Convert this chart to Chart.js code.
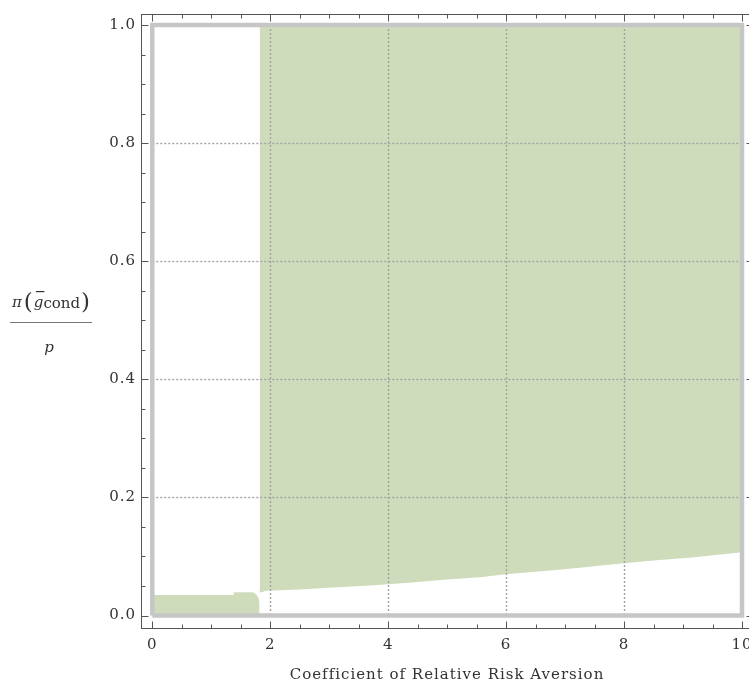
<!DOCTYPE html>
<html>
<head>
<meta charset="utf-8">
<script src="https://cdn.jsdelivr.net/npm/chart.js@4.4.1/dist/chart.umd.min.js"></script>
<style>
  html, body { margin: 0; padding: 0; background: #fff; width: 749px; height: 684px; overflow: hidden; }
  #wrap { position: absolute; left: 0; top: 0; width: 760px; height: 684px; }
</style>
</head>
<body>
<div id="wrap"><canvas id="chart" width="760" height="684"></canvas></div>
<script>
// Tick values and labels
const xTickValues = [0, 2, 4, 6, 8, 10];
const xTickLabels = ['0', '2', '4', '6', '8', '10'];
const yTickValues = [0.0, 0.2, 0.4, 0.6, 0.8, 1.0];
const yTickLabels = ['0.0', '0.2', '0.4', '0.6', '0.8', '1.0'];

// Shaded region for risk aversion above ~1.8: lower boundary (upper edge is 1)
const upperX   = [1.82, 1.87, 1.92, 2.5, 3.0, 3.7, 4.4, 5.0, 5.6, 5.95, 6.75, 7.25, 7.65, 8.0, 8.5, 9.1, 9.6, 10];
const upperLow = [0.039, 0.040, 0.042, 0.044, 0.047, 0.051, 0.056, 0.061, 0.065, 0.0695, 0.076, 0.081, 0.085, 0.0885, 0.093, 0.098, 0.103, 0.107];
const upperTopX = [1.82, 10];
const upperTop  = [1, 1];

// Thin shaded band at low risk aversion
const bandX = [0, 1.38, 1.38, 1.71, 1.76, 1.80, 1.82, 1.82];
const bandY = [0.0347, 0.0347, 0.0392, 0.0392, 0.036, 0.030, 0.020, 0];

// Plot range outline
const rangeX = [0, 10, 10, 0, 0];
const rangeY = [0, 0, 1, 1, 0];

const GREEN = '#cfdcbc';
const pts = (xs, ys) => xs.map((x, i) => ({ x: x, y: ys[i] }));

const serif = "'DejaVu Serif', 'Liberation Serif', serif";

// Slightly open letter spacing for all chart text
const spacingPlugin = {
  id: 'letterSpacing',
  beforeDraw(chart) { chart.ctx.letterSpacing = '1px'; }
};

// Dotted grid inside the plot range, drawn just before the outline
const gridPlugin = {
  id: 'rangeGrid',
  beforeDatasetDraw(chart, args) {
    if (args.index !== 3) return;
    const { ctx, scales: { x, y } } = chart;
    ctx.save();
    ctx.strokeStyle = '#a2a2a2';
    ctx.lineWidth = 1.4;
    ctx.setLineDash([2, 2]);
    [2, 4, 6, 8].forEach(v => {
      const px = Math.round(x.getPixelForValue(v)) + 0.5;
      ctx.beginPath();
      ctx.moveTo(px, y.getPixelForValue(1));
      ctx.lineTo(px, y.getPixelForValue(0));
      ctx.stroke();
    });
    [0.2, 0.4, 0.6, 0.8].forEach(v => {
      const py = Math.round(y.getPixelForValue(v)) + 0.5;
      ctx.beginPath();
      ctx.moveTo(x.getPixelForValue(0), py);
      ctx.lineTo(x.getPixelForValue(10), py);
      ctx.stroke();
    });
    ctx.restore();
  }
};

// Frame around the chart area with inward ticks on all four sides
const framePlugin = {
  id: 'frameTicks',
  afterDraw(chart) {
    const { ctx, chartArea: a, scales: { x, y } } = chart;
    ctx.save();
    ctx.letterSpacing = '0px';
    ctx.strokeStyle = '#555';
    ctx.lineWidth = 1;
    const L = Math.round(a.left) + 0.5, R = Math.round(a.right) + 0.5;
    const T = Math.round(a.top) + 0.5, B = Math.round(a.bottom) + 0.5;
    ctx.strokeRect(L, T, R - L, B - T);
    ctx.beginPath();
    for (let i = 0; i <= 20; i++) {
      const v = i * 0.5;
      const len = (i % 4 === 0) ? 7 : 4;
      const px = Math.round(x.getPixelForValue(v)) + 0.5;
      ctx.moveTo(px, B); ctx.lineTo(px, B - len);
      ctx.moveTo(px, T); ctx.lineTo(px, T + len);
    }
    for (let i = 0; i <= 20; i++) {
      const v = i * 0.05;
      const len = (i % 4 === 0) ? 7 : 4;
      const py = Math.round(y.getPixelForValue(v)) + 0.5;
      ctx.moveTo(L, py); ctx.lineTo(L + len, py);
      ctx.moveTo(R, py); ctx.lineTo(R - len, py);
    }
    ctx.stroke();

    // Vertical axis label: pi(g-bar_cond) / p
    ctx.fillStyle = '#333';
    ctx.textBaseline = 'alphabetic';
    const base = 307;
    const parts = [
      { t: '\u03C0', f: 'italic 15px ' + serif, dy: 0, gap: 2 },
      { t: '(', f: '23px ' + serif, dy: 2, gap: 1 },
      { t: 'g', f: 'italic 15px ' + serif, dy: 0, gap: 0, bar: true },
      { t: 'cond', f: '15px ' + serif, dy: 1, gap: 1 },
      { t: ')', f: '23px ' + serif, dy: 2, gap: 0 }
    ];
    let total = 0;
    parts.forEach(p => { ctx.font = p.f; p.w = ctx.measureText(p.t).width; total += p.w + p.gap; });
    const cx = 51;
    let px = cx - total / 2;
    parts.forEach(p => {
      ctx.font = p.f;
      ctx.fillText(p.t, px, base + p.dy);
      if (p.bar) {
        ctx.fillRect(px + 2, base - 16, p.w - 1, 1.2);
      }
      px += p.w + p.gap;
    });
    ctx.strokeStyle = '#777';
    ctx.lineWidth = 1.2;
    ctx.beginPath();
    ctx.moveTo(10, 322.5); ctx.lineTo(92, 322.5);
    ctx.stroke();
    ctx.font = 'italic 15px ' + serif;
    ctx.textAlign = 'center';
    ctx.fillText('p', cx - 2, 352);
    ctx.restore();
  }
};

new Chart(document.getElementById('chart'), {
  type: 'line',
  data: {
    datasets: [
      {
        label: 'band',
        data: pts(bandX, bandY),
        borderColor: 'rgba(0,0,0,0)', borderWidth: 0,
        backgroundColor: GREEN, fill: 'origin',
        pointRadius: 0, tension: 0, order: 1
      },
      {
        label: 'lower boundary',
        data: pts(upperX, upperLow),
        borderColor: 'rgba(0,0,0,0)', borderWidth: 0,
        backgroundColor: GREEN, fill: '+1',
        pointRadius: 0, tension: 0, order: 1
      },
      {
        label: 'upper edge',
        data: pts(upperTopX, upperTop),
        borderColor: 'rgba(0,0,0,0)', borderWidth: 0,
        backgroundColor: GREEN, fill: false,
        pointRadius: 0, tension: 0, order: 2
      },
      {
        label: 'range',
        data: pts(rangeX, rangeY),
        borderColor: '#c6c6c6', borderWidth: 4.5,
        borderJoinStyle: 'miter',
        fill: false, pointRadius: 0, tension: 0, order: 0
      }
    ]
  },
  options: {
    responsive: false,
    animation: false,
    devicePixelRatio: 1,
    layout: { padding: { top: 14, right: 7, left: 0, bottom: 0 } },
    plugins: { legend: { display: false }, tooltip: { enabled: false } },
    scales: {
      x: {
        type: 'linear',
        min: -0.1916, max: 10.1865,
        grid: { display: false, drawTicks: false },
        border: { display: false },
        ticks: {
          color: '#333', padding: 8, maxRotation: 0, autoSkip: false,
          font: { family: serif, size: 15 },
          callback: v => { const i = xTickValues.indexOf(v); return i < 0 ? '' : xTickLabels[i]; }
        },
        afterBuildTicks: s => { s.ticks = xTickValues.map(v => ({ value: v })); },
        afterFit: s => { s.height = 56.3; s.paddingLeft = 0; s.paddingRight = 0; },
        title: {
          display: true, text: 'Coefficient of Relative Risk Aversion',
          color: '#333', font: { family: serif, size: 15 }, padding: { top: 0, bottom: 0 }
        }
      },
      y: {
        type: 'linear',
        min: -0.02066, max: 1.01863,
        grid: { display: false, drawTicks: false },
        border: { display: false },
        ticks: {
          color: '#333', padding: 5, autoSkip: false,
          font: { family: serif, size: 15 },
          callback: v => { const i = yTickValues.indexOf(v); return i < 0 ? '' : yTickLabels[i]; }
        },
        afterBuildTicks: s => { s.ticks = yTickValues.map(v => ({ value: v })); },
        afterFit: s => { s.width = 141; s.paddingTop = 0; s.paddingBottom = 0; }
      }
    }
  },
  plugins: [spacingPlugin, gridPlugin, framePlugin]
});
</script>
</body>
</html>
